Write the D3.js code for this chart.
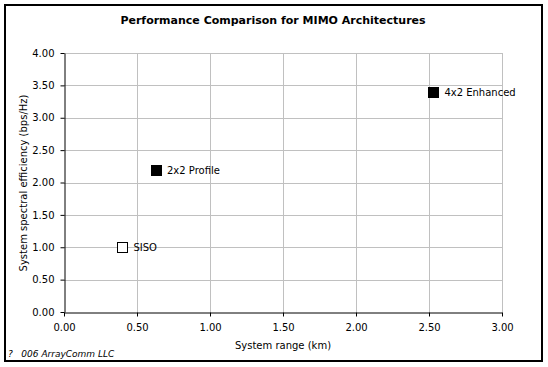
<!DOCTYPE html>
<html><head><meta charset="utf-8">
<script src="https://cdn.jsdelivr.net/npm/d3@7"></script>
<style>body{margin:0;background:#fff}svg{display:block}</style>
</head><body>
<svg id="c" width="548" height="367"></svg>
<script>
const names = ["SISO", "2x2 Profile", "4x2 Enhanced"];
const rangeKm = [0.40, 0.63, 2.53];
const efficiency = [1.00, 2.20, 3.40];
const filled = [false, true, true];
const xTicks = [0, 0.5, 1.0, 1.5, 2.0, 2.5, 3.0];
const yTicks = [0, 0.5, 1.0, 1.5, 2.0, 2.5, 3.0, 3.5, 4.0];

const svg = d3.select("#c");
const font = "DejaVu Sans, Verdana, sans-serif";
svg.append("rect").attr("x",5).attr("y",5).attr("width",537).attr("height",356)
  .attr("fill","#fff").attr("stroke","#000").attr("stroke-width",2);

const x = d3.scaleLinear().domain([0,3]).range([64,502]);
const y = d3.scaleLinear().domain([0,4]).range([312,53]);

// grid
svg.append("g").selectAll("line").data(yTicks.filter(d=>d>0)).join("line")
  .attr("x1",64).attr("x2",502).attr("y1",d=>Math.round(y(d))+0.5).attr("y2",d=>Math.round(y(d))+0.5)
  .attr("stroke","#c0c0c0");
svg.append("g").selectAll("line").data(xTicks.filter(d=>d>0)).join("line")
  .attr("y1",53).attr("y2",312).attr("x1",d=>Math.round(x(d))+0.5).attr("x2",d=>Math.round(x(d))+0.5)
  .attr("stroke","#c0c0c0");

const fmt = d3.format(".2f");
const xa = svg.append("g").attr("transform","translate(0,312.5)")
  .call(d3.axisBottom(x).tickValues(xTicks).tickFormat(fmt).tickSize(4).tickSizeOuter(0));
const ya = svg.append("g").attr("transform","translate(64.5,0)")
  .call(d3.axisLeft(y).tickValues(yTicks).tickFormat(fmt).tickSize(4).tickSizeOuter(0));
[xa,ya].forEach(a=>{
  a.selectAll("text").attr("font-family",font).attr("font-size",10).attr("fill","#000");
  a.select(".domain").attr("stroke","#000");
  a.selectAll(".tick line").attr("stroke","#000");
});
xa.selectAll("text").attr("dy","1.1em");
ya.selectAll("text").attr("dx","-0.3em");

// points
const pts = svg.append("g");
names.forEach((n,i)=>{
  const cx = x(rangeKm[i]), cy = y(efficiency[i]);
  pts.append("rect").attr("x",Math.round(cx-5)+0.5).attr("y",Math.round(cy-5)+0.5)
    .attr("width",10).attr("height",10)
    .attr("fill",filled[i]?"#000":"#fff").attr("stroke","#000");
  pts.append("text").attr("x",cx+11).attr("y",cy+4).text(n)
    .attr("font-family",font).attr("font-size",10).attr("fill","#000");
});

svg.append("text").attr("x",273).attr("y",24).attr("text-anchor","middle")
  .attr("font-family",font).attr("font-size",11).attr("font-weight","bold")
  .text("Performance Comparison for MIMO Architectures");
svg.append("text").attr("x",283).attr("y",349).attr("text-anchor","middle")
  .attr("font-family",font).attr("font-size",10).text("System range (km)");
svg.append("text").attr("transform","translate(27,183) rotate(-90)").attr("text-anchor","middle")
  .attr("font-family",font).attr("font-size",10).text("System spectral efficiency (bps/Hz)");
svg.append("text").attr("x",8).attr("y",357).style("white-space","pre")
  .attr("font-family",font).attr("font-size",9).attr("font-style","italic")
  .text("?   006 ArrayComm LLC");
</script>
</body></html>
